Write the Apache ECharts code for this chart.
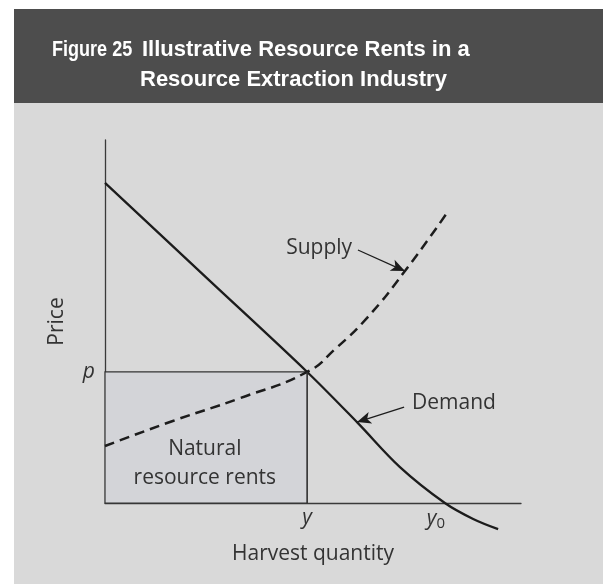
<!DOCTYPE html>
<html>
<head>
<meta charset="utf-8">
<script src="https://cdn.jsdelivr.net/npm/echarts@6/dist/echarts.min.js"></script>
<style>html,body{margin:0;padding:0;background:#fff}#c{width:603px;height:584px}</style>
</head>
<body>
<div id="c"></div>
<script>
// ---- data ----
const titleLine1a = 'Figure 25';
const titleLine1b = 'Illustrative Resource Rents in a';
const titleLine2 = 'Resource Extraction Industry';
const xName = 'Harvest quantity';
const yName = 'Price';
const demandQ = [0, 24.3, 48.6, 60.8, 70.9, 81.7, 88.5, 94.5];
const demandP = [88.2, 62.15, 36.1, 22.0, 9.9, 0, -4.4, -7.2];
const supplyQ = [0, 16.3, 32.5, 48.6, 55.5, 63.0, 72.1, 82.2];
const supplyP = [15.7, 22.6, 28.9, 36.1, 42.6, 51.0, 63.9, 79.9];
const eqQ = 48.6;   // y
const eqP = 36.1;   // p
const y0Q = 81.7;   // y0
const xTickLabels = ['y', 'y0'];
const yTickLabels = ['p'];
const rentsLabel = ['Natural', 'resource rents'];
const supplyArrow = [[60.8, 69.7], [72.1, 63.9]];
const demandArrow = [[71.9, 26.4], [60.6, 22.3]];
const supplyLabelAt = [59.4, 70.2];
const demandLabelAt = [73.8, 27.5];
const rentsLabelAt = [24.0, 10.9];

const FONT = '"Open Sans", sans-serif';
const TFONT = 'bold 22px "Liberation Sans", Arial, sans-serif';
const TXT = '#333';
const LINE = '#1c1c1c';

const chart = echarts.init(document.getElementById('c'), null, {renderer: 'canvas'});
chart.setOption({
  backgroundColor: '#ffffff',
  animation: false,
  graphic: [
    {type: 'rect', z: -100, shape: {x: 14, y: 103, width: 589, height: 481}, style: {fill: '#d9d9d9'}},
    {type: 'rect', z: -100, shape: {x: 14, y: 9, width: 589, height: 94}, style: {fill: '#4d4d4d'}},
    {type: 'text', x: 52, y: 49.5, scaleX: 0.82, style: {text: titleLine1a, fill: '#fff', font: TFONT, verticalAlign: 'middle'}},
    {type: 'text', x: 142, y: 49.5, style: {text: titleLine1b, fill: '#fff', font: TFONT, verticalAlign: 'middle'}},
    {type: 'text', x: 140, y: 79.5, style: {text: titleLine2, fill: '#fff', font: TFONT, verticalAlign: 'middle'}}
  ],
  grid: {left: 105, right: 82, top: 140, bottom: 81, containLabel: false},
  xAxis: {
    type: 'value', min: 0, max: 100,
    name: xName, nameLocation: 'middle', nameGap: 41,
    nameTextStyle: {fontFamily: FONT, fontSize: 21, color: TXT},
    axisLine: {show: true, lineStyle: {color: '#3a3a3a', width: 1.3}},
    axisTick: {show: false},
    splitLine: {show: false},
    axisLabel: {
      show: true, customValues: [eqQ, y0Q], margin: 5,
      formatter: function (v) { return v === eqQ ? '{i|' + xTickLabels[0] + '}' : '{i|y}{s|0}{g|}'; },
      rich: {
        i: {fontFamily: FONT, fontStyle: 'italic', fontSize: 21, color: TXT},
        s: {fontFamily: FONT, fontSize: 15, color: TXT, verticalAlign: 'bottom', padding: [8, 0, 0, 0]},
        g: {width: 18}
      }
    }
  },
  yAxis: {
    type: 'value', min: 0, max: 100,
    name: yName, nameLocation: 'middle', nameGap: 37, nameRotate: 90,
    nameTextStyle: {fontFamily: FONT, fontSize: 21, color: TXT},
    axisLine: {show: true, lineStyle: {color: '#3a3a3a', width: 1.3}},
    axisTick: {show: false},
    splitLine: {show: false},
    axisLabel: {
      show: true, customValues: [eqP], margin: 10,
      formatter: function () { return yTickLabels[0]; },
      fontFamily: FONT, fontStyle: 'italic', fontSize: 21, color: TXT
    }
  },
  series: [
    {
      type: 'line', name: 'rents', data: [], silent: true,
      markArea: {
        silent: true,
        itemStyle: {color: '#d3d4d8', borderColor: '#333', borderWidth: 1.2},
        data: [[{coord: [0, 0]}, {coord: [eqQ, eqP]}]]
      },
      markPoint: {
        symbol: 'circle', symbolSize: 0.1, silent: true,
        label: {show: true, position: 'inside', fontFamily: FONT, fontSize: 21, color: TXT, lineHeight: 29, align: 'center'},
        data: [{coord: rentsLabelAt, label: {formatter: rentsLabel.join('\n')}}]
      }
    },
    {
      type: 'line', name: 'Demand', clip: false, symbol: 'none', smooth: 0.35,
      data: demandQ.map((q, i) => [q, demandP[i]]),
      lineStyle: {color: LINE, width: 2.3},
      markLine: {
        silent: true, symbol: ['none', 'arrow'], symbolSize: [9, 14],
        lineStyle: {color: LINE, width: 1.3, type: 'solid'},
        label: {show: false},
        data: [[{coord: demandArrow[0]}, {coord: demandArrow[1]}]]
      },
      markPoint: {
        symbol: 'circle', symbolSize: 0.1, silent: true,
        label: {show: true, position: 'right', distance: 0, fontFamily: FONT, fontSize: 21, color: TXT},
        data: [{coord: demandLabelAt, label: {formatter: 'Demand'}}]
      }
    },
    {
      type: 'line', name: 'Supply', clip: false, symbol: 'none', smooth: 0.5,
      data: supplyQ.map((q, i) => [q, supplyP[i]]),
      lineStyle: {color: LINE, width: 2.5, type: [10, 6]},
      markLine: {
        silent: true, symbol: ['none', 'arrow'], symbolSize: [9, 14],
        lineStyle: {color: LINE, width: 1.3, type: 'solid'},
        label: {show: false},
        data: [[{coord: supplyArrow[0]}, {coord: supplyArrow[1]}]]
      },
      markPoint: {
        symbol: 'circle', symbolSize: 0.1, silent: true,
        label: {show: true, position: 'left', distance: 0, fontFamily: FONT, fontSize: 21, color: TXT},
        data: [{coord: supplyLabelAt, label: {formatter: 'Supply'}}]
      }
    },
    {
      type: 'line', name: 'eqV', symbol: 'none', silent: true,
      data: [[eqQ, 0], [eqQ, eqP]],
      lineStyle: {color: '#333', width: 1.2}
    }
  ]
});
</script>
</body>
</html>
